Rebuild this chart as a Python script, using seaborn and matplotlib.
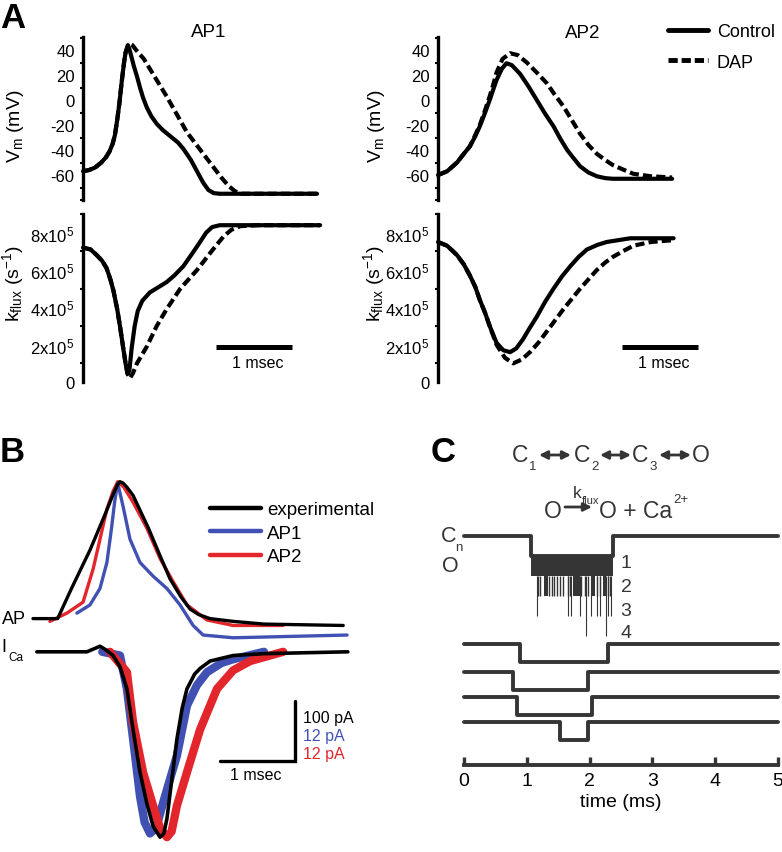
import numpy as np
import seaborn as sns
import matplotlib.pyplot as plt
from matplotlib.lines import Line2D
from matplotlib.ticker import MultipleLocator

# ---------------- Panel A : AP1 (time ms, Vm mV, kflux in 1e5 s^-1)
ap1_vm_ctrl_t = [0, 0.08, 0.16, 0.24, 0.3, 0.35, 0.39, 0.42, 0.45, 0.48, 0.51, 0.54, 0.56, 0.59,
                 0.61, 0.64, 0.67, 0.71, 0.75, 0.79, 0.84, 0.9, 0.97, 1.05, 1.15, 1.25, 1.32,
                 1.42, 1.5, 1.58, 1.65, 1.72, 1.8, 2.5, 3.08]
ap1_vm_ctrl = [-57, -56, -54, -50, -46, -41, -35, -28, -16, -2, 15, 30, 38, 44,
               41, 34, 27, 19, 10, 2, -6, -13, -19, -24, -29, -34, -39,
               -48, -57, -66, -72, -74.5, -75, -75, -75]
ap1_vm_dap_t = [0, 0.08, 0.16, 0.24, 0.3, 0.35, 0.39, 0.42, 0.45, 0.48, 0.51, 0.54, 0.56, 0.59,
                0.62, 0.65, 0.7, 0.8, 1.1, 1.37, 1.67, 1.82, 1.92, 2.0, 2.08, 2.5, 3.08]
ap1_vm_dap = [-57, -56, -54, -50, -46, -41, -35, -28, -16, -2, 15, 30, 38, 43,
              45, 44, 40, 33, 3, -26, -50, -62, -69, -73, -75, -75, -75]
ap1_k_ctrl_t = [0, 0.1, 0.18, 0.25, 0.31, 0.36, 0.4, 0.45, 0.49, 0.53, 0.56, 0.585, 0.61, 0.64,
                0.68, 0.72, 0.78, 0.88, 1.0, 1.1, 1.2, 1.32, 1.44, 1.54, 1.62, 1.7, 1.8, 2.2, 3.12]
ap1_k_ctrl = [7.2, 7.1, 6.8, 6.5, 6.1, 5.5, 4.9, 3.9, 2.9, 1.8, 1.0, 0.45, 0.6, 1.8,
              3.0, 3.8, 4.35, 4.8, 5.1, 5.35, 5.7, 6.2, 6.9, 7.5, 8.0, 8.3, 8.4, 8.4, 8.4]
ap1_k_dap_t = [0, 0.1, 0.18, 0.25, 0.31, 0.36, 0.4, 0.45, 0.49, 0.53, 0.56, 0.59, 0.62, 0.66,
               0.71, 0.84, 0.97, 1.1, 1.28, 1.5, 1.71, 1.85, 1.95, 2.07, 2.3, 3.12]
ap1_k_dap = [7.2, 7.1, 6.8, 6.5, 6.1, 5.5, 4.9, 3.9, 2.9, 1.8, 1.0, 0.4, 0.2, 0.5,
             1.0, 1.9, 3.0, 3.9, 5.0, 6.0, 7.1, 7.8, 8.15, 8.35, 8.4, 8.4]

# ---------------- Panel A : AP2
ap2_vm_ctrl_t = [0, 0.12, 0.25, 0.34, 0.42, 0.49, 0.55, 0.62, 0.68, 0.73, 0.77, 0.84, 0.9, 0.97,
                 1.08, 1.19, 1.3, 1.41, 1.52, 1.61, 1.7, 1.79, 1.87, 1.98, 2.09, 2.2, 2.3, 3.08]
ap2_vm_ctrl = [-60, -57, -50, -43, -37, -29, -21, -10, 0, 9, 16, 25, 29.5, 28,
               21, 11, 0, -11, -21, -31, -40, -47, -53, -58, -61, -62.5, -63, -63]
ap2_vm_dap_t = [0, 0.12, 0.25, 0.34, 0.42, 0.49, 0.55, 0.62, 0.68, 0.73, 0.77, 0.85, 0.95, 1.05,
                1.17, 1.3, 1.43, 1.54, 1.65, 1.76, 1.87, 1.98, 2.09, 2.2, 2.3, 2.45, 2.57, 2.8, 3.08]
ap2_vm_dap = [-60, -57, -50, -43, -37, -28, -20, -8, 3, 13, 22, 33, 37.5, 36,
              30, 22, 13.6, 4, -5, -16, -27, -36, -43, -48, -52, -56, -59, -61, -62]
ap2_k_ctrl_t = [0, 0.12, 0.25, 0.34, 0.42, 0.49, 0.55, 0.62, 0.68, 0.77, 0.86, 0.95, 1.03, 1.12,
                1.2, 1.3, 1.41, 1.52, 1.63, 1.74, 1.85, 1.96, 2.1, 2.22, 2.53, 3.1]
ap2_k_ctrl = [7.5, 7.3, 6.8, 6.3, 5.7, 5.1, 4.4, 3.7, 3.0, 2.1, 1.7, 1.6, 1.8, 2.3,
              2.85, 3.5, 4.3, 5.0, 5.65, 6.2, 6.7, 7.1, 7.35, 7.5, 7.7, 7.7]
ap2_k_dap_t = [0, 0.12, 0.25, 0.34, 0.42, 0.49, 0.55, 0.62, 0.68, 0.77, 0.88, 0.99, 1.1, 1.21,
               1.32, 1.43, 1.54, 1.65, 1.76, 1.87, 1.98, 2.09, 2.2, 2.3, 2.43, 2.57, 2.8, 3.1]
ap2_k_dap = [7.5, 7.3, 6.8, 6.3, 5.7, 5.1, 4.4, 3.7, 3.0, 2.0, 1.3, 1.0, 1.2, 1.6,
             2.1, 2.7, 3.3, 3.9, 4.45, 5.0, 5.5, 6.0, 6.4, 6.7, 7.0, 7.3, 7.5, 7.6]

vm_ticks = [-60, -40, -20, 0, 20, 40]
k_ticks = [0, 2, 4, 6, 8]
k_ticklabels = ['0', '2x10$^\\mathregular{5}$', '4x10$^\\mathregular{5}$',
                '6x10$^\\mathregular{5}$', '8x10$^\\mathregular{5}$']

# ---------------- Panel B : normalised AP and I_Ca (time ms)
b_exp_t = [0, 0.32, 0.5, 0.74, 0.95, 1.05, 1.1, 1.13, 1.17, 1.22, 1.3, 1.5, 1.65, 1.78, 1.92,
           2.04, 2.15, 2.3, 2.6, 3.0, 4.03]
b_exp = [0, 0, 0.22, 0.5, 0.78, 0.92, 0.98, 1.0, 0.99, 0.96, 0.9, 0.66, 0.46, 0.29, 0.16,
         0.07, 0.03, 0.0, -0.02, -0.04, -0.05]
b_ap2_t = [0.22, 0.44, 0.65, 0.78, 0.87, 0.96, 1.04, 1.1, 1.18, 1.3, 1.48, 1.65, 1.82, 2.0,
           2.26, 2.6, 3.25]
b_ap2 = [-0.02, 0.04, 0.12, 0.36, 0.58, 0.8, 0.93, 1.0, 0.96, 0.85, 0.66, 0.44, 0.27, 0.1,
         -0.01, -0.05, -0.05]
b_ap1_t = [0.57, 0.74, 0.87, 0.96, 1.02, 1.06, 1.1, 1.17, 1.26, 1.39, 1.56, 1.74, 1.91, 2.08,
           2.21, 2.6, 4.08]
b_ap1 = [0.04, 0.1, 0.22, 0.41, 0.66, 0.85, 0.99, 0.82, 0.58, 0.41, 0.31, 0.22, 0.1, -0.05,
         -0.12, -0.14, -0.12]

b_ica_exp_t = [0.05, 0.7, 0.87, 0.95, 1.04, 1.13, 1.22, 1.3, 1.39, 1.48, 1.56, 1.65, 1.7, 1.74,
               1.8, 1.87, 1.94, 2.0, 2.1, 2.17, 2.3, 2.6, 3.0, 4.09]
b_ica_exp = [0, 0, 0.03, 0.01, -0.02, -0.08, -0.2, -0.42, -0.65, -0.82, -0.94, -1.0, -0.98, -0.9,
             -0.7, -0.47, -0.3, -0.2, -0.12, -0.09, -0.05, -0.02, -0.01, 0]
b_ica_ap1_t = [0.9, 1.13, 1.22, 1.3, 1.39, 1.45, 1.52, 1.6, 1.7, 1.87, 2.0, 2.13, 2.26, 2.45, 2.6, 3.0]
b_ica_ap1 = [0, -0.02, -0.2, -0.47, -0.78, -0.92, -0.98, -0.95, -0.8, -0.56, -0.29, -0.18,
             -0.11, -0.06, -0.04, 0]
b_ica_ap2_t = [1.0, 1.22, 1.3, 1.43, 1.56, 1.65, 1.74, 1.8, 1.87, 2.0, 2.17, 2.39, 2.6, 2.82, 3.25]
b_ica_ap2 = [0, -0.11, -0.38, -0.65, -0.83, -0.95, -1.0, -0.97, -0.83, -0.65, -0.42, -0.2,
             -0.1, -0.05, 0]

# ---------------- Panel C : channel openings (time ms)
ens_open, ens_close = 1.07, 2.37
ens_burst_on = [1.27, 1.73, 2.02, 2.21]
ens_burst_off = [1.34, 1.85, 2.09, 2.26]
ens_spk2 = [1.18, 1.21, 1.36, 1.40, 1.44, 1.48, 1.53, 1.57, 1.65, 1.69, 1.87, 1.93, 1.98,
            2.12, 2.17, 2.30, 2.32]
ens_spk3 = [1.16, 1.66, 1.71, 1.85, 2.03, 2.11, 2.17, 2.30, 2.34]
ens_spk4 = [1.95, 2.26]
ch_open = [0.89, 0.78, 0.84, 1.53]
ch_close = [2.29, 1.97, 2.04, 1.97]
c_ticks = [0, 1, 2, 3, 4, 5]

# ---------------- style
sns.set_theme(style="white")
plt.rcParams['font.family'] = ['Liberation Sans', 'DejaVu Sans']
plt.rcParams.update({
    'mathtext.fontset': 'custom', 'mathtext.rm': 'Liberation Sans',
    'mathtext.it': 'Liberation Sans:italic', 'mathtext.bf': 'Liberation Sans:bold',
    'axes.edgecolor': 'black', 'text.color': 'black', 'axes.labelcolor': 'black',
    'xtick.color': 'black', 'ytick.color': 'black', 'axes.unicode_minus': False,
})

BLUE = '#4151b3'
RED = '#e2262c'
GREY = '#353535'
W, H = 782, 853
fig = plt.figure(figsize=(W / 100, H / 100), dpi=100)


def add_ax(left, top, width, height):
    return fig.add_axes([left / W, 1 - (top + height) / H, width / W, height / H])


def trace(ax, t, v, color='black', lw=3.0, dashes=None, z=2, **kw):
    sns.lineplot(x=t, y=v, ax=ax, color=color, linewidth=lw, sort=False,
                 estimator=None, zorder=z, **kw)
    line = ax.lines[-1]
    if dashes:
        line.set_dashes(dashes)
    line.set_clip_on(False)
    return line


def style_a(ax, kind, lab_x):
    sns.despine(ax=ax, bottom=True)
    ax.set_xticks([])
    ax.set_xlim(0, 3.5)
    ax.spines['left'].set_linewidth(2.4)
    ax.tick_params(axis='y', which='major', length=4.5, width=1.8, labelsize=12, pad=1.5)
    ax.tick_params(axis='y', which='minor', length=2.5, width=1.5, left=True)
    ax.patch.set_visible(False)
    if kind == 'vm':
        ax.set_ylim(-80, 50.5)
        ax.set_yticks(vm_ticks)
        ax.yaxis.set_minor_locator(MultipleLocator(10))
        ax.set_ylabel('V$_\\mathregular{m}$ (mV)', fontsize=14)
        ax.yaxis.set_label_coords(lab_x, 0.46)
    else:
        ax.set_ylim(0, 9)
        ax.set_yticks(k_ticks)
        ax.set_yticklabels(k_ticklabels)
        ax.yaxis.set_minor_locator(MultipleLocator(1))
        ax.set_ylabel('k$_\\mathregular{flux}$ (s$^\\mathregular{-1}$)', fontsize=14)
        ax.yaxis.set_label_coords(lab_x, 0.59)


# ---------------- Panel A
panels = [
    (83, -0.215, ap1_vm_ctrl_t, ap1_vm_ctrl, ap1_vm_dap_t, ap1_vm_dap,
     ap1_k_ctrl_t, ap1_k_ctrl, ap1_k_dap_t, ap1_k_dap, 1.75),
    (438, -0.19, ap2_vm_ctrl_t, ap2_vm_ctrl, ap2_vm_dap_t, ap2_vm_dap,
     ap2_k_ctrl_t, ap2_k_ctrl, ap2_k_dap_t, ap2_k_dap, 2.42),
]
for (left, lab_x, vct, vc, vdt, vd, kct, kc, kdt, kd, bar0) in panels:
    av = add_ax(left, 38, 266, 163)
    trace(av, vdt, vd, dashes=(2.2, 1.0))
    trace(av, vct, vc)
    style_a(av, 'vm', lab_x)
    ak = add_ax(left, 215, 266, 168)
    trace(ak, kdt, kd, dashes=(2.2, 1.0))
    trace(ak, kct, kc)
    style_a(ak, 'k', lab_x)
    # 1 msec scale bar
    ak.plot([bar0, bar0 + 1], [1.9, 1.9], color='black', lw=3.6, solid_capstyle='butt')
    ak.text(bar0 + 0.55, 1.05, '1 msec', ha='center', va='center', fontsize=11.5)

fig.legend(handles=[Line2D([], [], color='black', lw=3.5),
                    Line2D([], [], color='black', lw=3.5, dashes=(1.9, 0.8))],
           labels=['Control', 'DAP'], loc='upper left',
           bbox_to_anchor=(668 / W, 1 - 24 / H), bbox_transform=fig.transFigure,
           frameon=False, fontsize=13, handlelength=2.2, handletextpad=0.5,
           labelspacing=0.75, borderpad=0, borderaxespad=0)

# ---------------- Panel B
bap = add_ax(33, 469, 331, 178)
trace(bap, b_ap2_t, b_ap2, color=RED, lw=2.4)
trace(bap, b_ap1_t, b_ap1, color=BLUE, lw=2.4)
trace(bap, b_exp_t, b_exp, color='black', lw=2.4)
bap.set_xlim(0, 4.3)
bap.set_ylim(-0.2, 1.1)
bap.axis('off')
bap.legend(handles=[Line2D([], [], color='black', lw=3.2), Line2D([], [], color=BLUE, lw=3.2),
                    Line2D([], [], color=RED, lw=3.2)],
           labels=['experimental', 'AP1', 'AP2'], loc='upper left',
           bbox_to_anchor=(210 / W, 1 - 502 / H), bbox_transform=fig.transFigure,
           frameon=False, fontsize=13.5, handlelength=2.7, handletextpad=0.35,
           labelspacing=0.35, borderpad=0, borderaxespad=0)

bica = add_ax(33, 625, 331, 228)
trace(bica, b_ica_ap1_t, b_ica_ap1, color=BLUE, lw=6.0)
trace(bica, b_ica_ap2_t, b_ica_ap2, color=RED, lw=6.0)
trace(bica, b_ica_exp_t, b_ica_exp, color='black', lw=2.6, z=3)
bica.plot([2.43, 3.40, 3.40], [-0.59, -0.59, -0.265], color='black', lw=2.4,
          solid_joinstyle='miter')
bica.set_xlim(0, 4.3)
bica.set_ylim(-1.08, 0.15)
bica.axis('off')

# ---------------- Panel C
cax = add_ax(464, 516, 314, 250)
ENS_BASE, LEVEL = 11.45, 1.0
trace(cax, [0, ens_open, ens_close, 5],
      ENS_BASE - LEVEL * np.array([0, 1, 0, 0]), color=GREY, lw=2.8, drawstyle='steps-post')
cax.fill_between([ens_open, ens_close], ENS_BASE - 2 * LEVEL, ENS_BASE - LEVEL,
                 color=GREY, lw=0)
for on, off in zip(ens_burst_on, ens_burst_off):
    cax.fill_between([on, off], ENS_BASE - 3 * LEVEL, ENS_BASE - 2 * LEVEL, color=GREY, lw=0)
cax.vlines(ens_spk2, ENS_BASE - 3 * LEVEL, ENS_BASE - 2 * LEVEL, color=GREY, lw=1.0)
cax.vlines(ens_spk3, ENS_BASE - 4 * LEVEL, ENS_BASE - 2 * LEVEL, color=GREY, lw=0.8)
cax.vlines(ens_spk4, ENS_BASE - 5 * LEVEL, ENS_BASE - 2 * LEVEL, color=GREY, lw=0.8)

ch_base = [6.05, 4.65, 3.4, 2.15]
for base, on, off in zip(ch_base, ch_open, ch_close):
    trace(cax, [0, on, off, 5], base - 0.88 * np.array([0, 1, 0, 0]),
          color=GREY, lw=2.8, drawstyle='steps-post')

cax.set_xlim(0, 5)
cax.set_ylim(0, 12.5)
sns.despine(ax=cax, left=True)
cax.set_yticks([])
cax.set_xticks(c_ticks)
cax.spines['bottom'].set_linewidth(2.8)
cax.spines['bottom'].set_color(GREY)
cax.tick_params(axis='x', direction='in', length=6, width=2.4, labelsize=14, pad=5,
                color=GREY, bottom=True)
cax.set_xlabel('time (ms)', fontsize=14, labelpad=3)
cax.patch.set_visible(False)

# ---------------- text overlay (pixel coordinates)
ov = fig.add_axes([0, 0, 1, 1], zorder=10)
ov.set_xlim(0, W)
ov.set_ylim(H, 0)
ov.axis('off')
ov.patch.set_visible(False)

for letter, x, y in [('A', 0, 18), ('B', 0, 453), ('C', 431, 452)]:
    ov.text(x, y, letter, fontsize=25, fontweight='bold', ha='left', va='center')
ov.text(209, 32, 'AP1', fontsize=13.5, ha='center', va='center')
ov.text(583, 33, 'AP2', fontsize=13.5, ha='center', va='center')

ov.text(2, 620, 'AP', fontsize=13, ha='left', va='center')
ov.text(1, 648, 'I', fontsize=13, ha='left', va='center')
ov.text(8, 658, 'Ca', fontsize=8.5, ha='left', va='center')
ov.text(303, 718, '100 pA', fontsize=11.5, ha='left', va='center', color='black')
ov.text(303, 737, '12 pA', fontsize=11.5, ha='left', va='center', color=BLUE)
ov.text(303, 755, '12 pA', fontsize=11.5, ha='left', va='center', color=RED)
ov.text(256, 776, '1 msec', fontsize=11.5, ha='center', va='center')

# kinetic scheme
for s, x in [('C', 520), ('C', 582), ('C', 640)]:
    ov.text(x, 455, s, fontsize=16.5, ha='center', va='center', color=GREY)
for s, x in [('1', 533), ('2', 595), ('3', 653)]:
    ov.text(x, 467, s, fontsize=9.5, ha='center', va='center', color=GREY)
ov.text(701, 455, 'O', fontsize=16.5, ha='center', va='center', color=GREY)
for x0, x1 in [(539, 571), (600, 631), (659, 691)]:
    ov.annotate('', xy=(x1, 456), xytext=(x0, 456),
                arrowprops=dict(arrowstyle='<|-|>', color=GREY, lw=2.0,
                                mutation_scale=12, shrinkA=0, shrinkB=0))
ov.text(553, 511, 'O', fontsize=16.5, ha='center', va='center', color=GREY)
ov.annotate('', xy=(592, 508), xytext=(565, 508),
            arrowprops=dict(arrowstyle='-|>', color=GREY, lw=2.0,
                            mutation_scale=12, shrinkA=0, shrinkB=0))
ov.text(577, 493, 'k', fontsize=12.5, ha='center', va='center', color=GREY)
ov.text(582, 501, 'flux', fontsize=8, ha='left', va='center', color=GREY)
ov.text(599, 511, 'O + Ca', fontsize=16.5, ha='left', va='center', color=GREY)
ov.text(673, 500, '2+', fontsize=9.5, ha='left', va='center', color=GREY)

ov.text(441, 536, 'C', fontsize=15.5, ha='left', va='center', color=GREY)
ov.text(455, 548, 'n', fontsize=9.5, ha='left', va='center', color=GREY)
ov.text(442, 566, 'O', fontsize=15.5, ha='left', va='center', color=GREY)
for s, y in [('1', 564), ('2', 588), ('3', 611), ('4', 633)]:
    ov.text(626, y, s, fontsize=14, ha='center', va='center', color=GREY)

fig.savefig('out.png', dpi=100)
